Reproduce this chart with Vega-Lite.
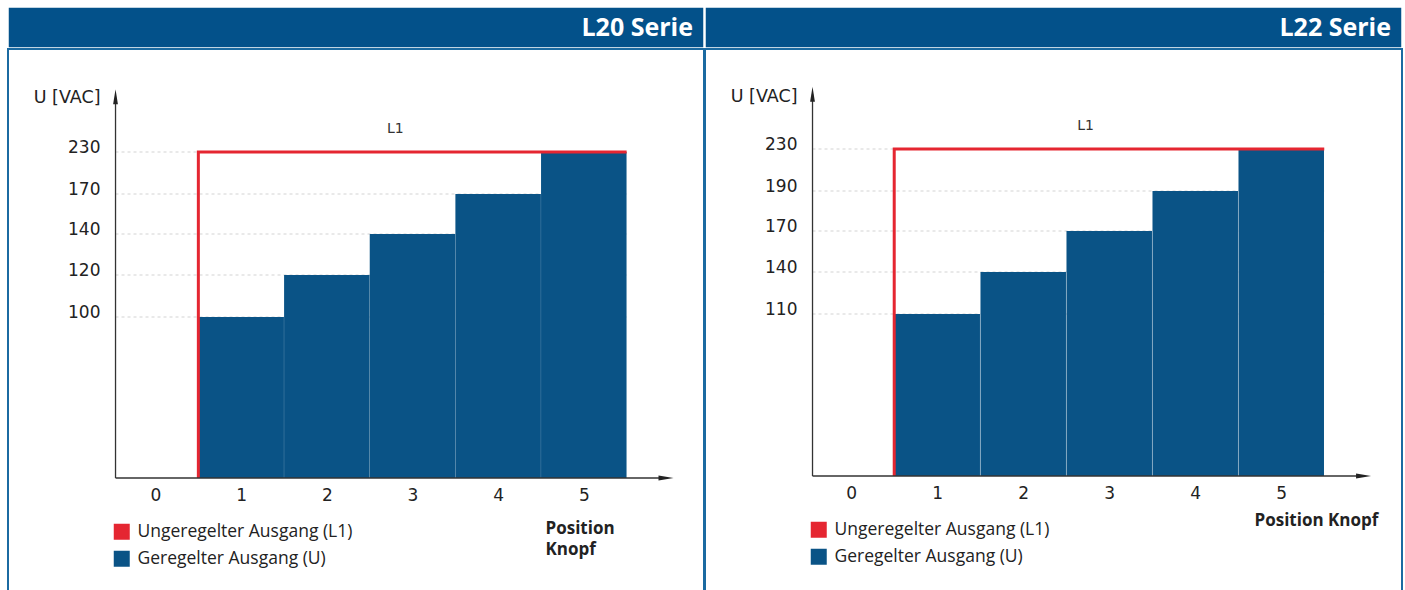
{
  "$schema": "https://vega.github.io/schema/vega-lite/v6.json",
  "padding": {"left": 7, "top": 6, "right": 0, "bottom": -3},
  "background": "white",
  "config": {"view": {"stroke": null}},
  "spacing": -4,
  "resolve": {"scale": {"color": "independent"}, "legend": {"color": "independent"}},
  "hconcat": [
    {
      "spacing": -2,
      "resolve": {"scale": {"color": "independent"}, "legend": {"color": "independent"}},
      "vconcat": [
        {
          "width": 696, "height": 41,
          "view": {"fill": "#03518a", "stroke": "#ffffff", "strokeWidth": 1.5},
          "data": {"values": [{"Serie": "L20 Serie"}]},
          "mark": {"type": "text", "align": "right", "baseline": "middle", "dx": -11, "font": "Open Sans", "fontSize": 25, "fontWeight": "bold", "color": "#ffffff"},
          "encoding": {
            "text": {"field": "Serie"},
            "x": {"datum": 1, "type": "quantitative", "scale": {"domain": [0, 1], "nice": false, "zero": false}, "axis": null}
          }
        },
        {
          "width": 696, "height": 545,
          "view": {"stroke": "#1b6aa1", "strokeWidth": 2},
          "data": {"values": [
            {"Position": 1, "U": 100},
            {"Position": 2, "U": 120},
            {"Position": 3, "U": 140},
            {"Position": 4, "U": 170},
            {"Position": 5, "U": 230}
          ]},
          "layer": [
            {
              "mark": {"type": "rule", "strokeDash": [3, 3], "color": "#d3d3d3", "strokeWidth": 1},
              "encoding": {
                "x": {"datum": -0.467, "type": "quantitative"},
                "x2": {"datum": 5.5},
                "y": {"field": "U", "type": "quantitative"}
              }
            },
            {
              "mark": {"type": "bar", "width": 85.5},
              "encoding": {
                "x": {"field": "Position", "type": "quantitative",
                  "scale": {"domain": [-1.664, 6.345], "nice": false, "zero": false},
                  "axis": {"values": [0, 1, 2, 3, 4, 5], "format": "d", "offset": -116, "domain": false, "ticks": false, "tickSize": 0, "grid": false,
                    "labelPadding": 9, "labelFont": "DejaVu Sans", "labelFontSize": 17, "labelColor": "#222222", "labelFlush": false, "labelOverlap": false,
                    "title": ["Position", "Knopf"], "titleFont": "Open Sans", "titleFontSize": 17, "titleFontWeight": "bold", "titleColor": "#222222",
                    "titleAlign": "left", "titleAnchor": "start", "titleX": 537, "titleY": 50, "titleBaseline": "middle", "titleLineHeight": 21}},
                "y": {"field": "U", "type": "quantitative",
                  "scale": {"domain": [-72, 0, 100, 120, 140, 170, 230, 377], "range": [545, 429, 268, 226, 185, 145, 103, 0], "nice": false, "zero": false},
                  "axis": {"values": [100, 120, 140, 170, 230], "offset": -104, "domain": false, "ticks": false, "tickSize": 0, "grid": false,
                    "labelPadding": 12, "labelBaseline": "alphabetic", "labelFont": "DejaVu Sans", "labelFontSize": 17, "labelColor": "#222222", "labelFlush": false, "labelOverlap": false,
                    "title": "U [VAC]", "titleAngle": 0, "titleAlign": "right", "titleBaseline": "middle", "titleX": -12, "titleY": 48,
                    "titleFont": "DejaVu Sans", "titleFontSize": 17.5, "titleFontWeight": "normal", "titleColor": "#222222"}},
                "color": {"datum": "Geregelter Ausgang (U)", "type": "nominal",
                  "scale": {"domain": ["Ungeregelter Ausgang (L1)", "Geregelter Ausgang (U)"], "range": ["#e52631", "#0a5386"]},
                  "legend": {"orient": "none", "legendX": 105, "legendY": 474, "title": null, "symbolType": "square", "symbolSize": 256, "symbolStrokeWidth": 0, "symbolOpacity": 1,
                    "labelFont": "Open Sans", "labelFontSize": 17.5, "labelColor": "#222222", "labelOffset": 7, "rowPadding": 8, "padding": 0, "labelLimit": 400}}
              }
            },
            {
              "data": {"values": [
                {"Position": 0.5, "U": 0},
                {"Position": 0.5, "U": 230},
                {"Position": 5.5, "U": 230}
              ]},
              "mark": {"type": "line", "color": "#e52631", "strokeWidth": 3, "strokeJoin": "miter", "strokeCap": "butt"},
              "encoding": {
                "x": {"field": "Position", "type": "quantitative"},
                "y": {"field": "U", "type": "quantitative"}
              }
            },
            {
              "data": {"values": [{}]},
              "mark": {"type": "rule", "color": "#333333", "strokeWidth": 1.3},
              "encoding": {
                "x": {"datum": -0.467, "type": "quantitative"},
                "y": {"datum": 0, "type": "quantitative"},
                "y2": {"datum": 309}
              }
            },
            {
              "data": {"values": [{}]},
              "mark": {"type": "rule", "color": "#333333", "strokeWidth": 1.3},
              "encoding": {
                "x": {"datum": -0.467, "type": "quantitative"},
                "x2": {"datum": 5.96},
                "y": {"datum": 0, "type": "quantitative"}
              }
            },
            {
              "data": {"values": [{}]},
              "mark": {"type": "point", "shape": "M0,-1L0.32,1L-0.32,1Z", "size": 225, "filled": true, "color": "#222222", "opacity": 1},
              "encoding": {
                "x": {"datum": -0.467, "type": "quantitative"},
                "y": {"datum": 309, "type": "quantitative"}
              }
            },
            {
              "data": {"values": [{}]},
              "mark": {"type": "point", "shape": "M1,0L-1,-0.32L-1,0.32Z", "size": 225, "filled": true, "color": "#222222", "opacity": 1},
              "encoding": {
                "x": {"datum": 5.96, "type": "quantitative"},
                "y": {"datum": 0, "type": "quantitative"}
              }
            },
            {
              "data": {"values": [{}]},
              "mark": {"type": "text", "text": "L1", "font": "DejaVu Sans", "fontSize": 14, "color": "#333333", "align": "center", "baseline": "middle"},
              "encoding": {
                "x": {"datum": 2.8, "type": "quantitative"},
                "y": {"datum": 263, "type": "quantitative"}
              }
            }
          ]
        }
      ]
    },
    {
      "spacing": -2,
      "resolve": {"scale": {"color": "independent"}, "legend": {"color": "independent"}},
      "vconcat": [
        {
          "width": 697, "height": 41,
          "view": {"fill": "#03518a", "stroke": "#ffffff", "strokeWidth": 1.5},
          "data": {"values": [{"Serie": "L22 Serie"}]},
          "mark": {"type": "text", "align": "right", "baseline": "middle", "dx": -11, "font": "Open Sans", "fontSize": 25, "fontWeight": "bold", "color": "#ffffff"},
          "encoding": {
            "text": {"field": "Serie"},
            "x": {"datum": 1, "type": "quantitative", "scale": {"domain": [0, 1], "nice": false, "zero": false}, "axis": null}
          }
        },
        {
          "width": 697, "height": 545,
          "view": {"stroke": "#1b6aa1", "strokeWidth": 2},
          "data": {"values": [
            {"Position": 1, "U": 110},
            {"Position": 2, "U": 140},
            {"Position": 3, "U": 170},
            {"Position": 4, "U": 190},
            {"Position": 5, "U": 230}
          ]},
          "layer": [
            {
              "mark": {"type": "rule", "strokeDash": [3, 3], "color": "#d3d3d3", "strokeWidth": 1},
              "encoding": {
                "x": {"datum": -0.45, "type": "quantitative"},
                "x2": {"datum": 5.5},
                "y": {"field": "U", "type": "quantitative"}
              }
            },
            {
              "mark": {"type": "bar", "width": 85.5},
              "encoding": {
                "x": {"field": "Position", "type": "quantitative",
                  "scale": {"domain": [-1.642, 6.346], "nice": false, "zero": false},
                  "axis": {"values": [0, 1, 2, 3, 4, 5], "format": "d", "offset": -118, "domain": false, "ticks": false, "tickSize": 0, "grid": false,
                    "labelPadding": 9, "labelFont": "DejaVu Sans", "labelFontSize": 17, "labelColor": "#222222", "labelFlush": false, "labelOverlap": false,
                    "title": "Position Knopf", "titleFont": "Open Sans", "titleFontSize": 17, "titleFontWeight": "bold", "titleColor": "#222222",
                    "titleAlign": "left", "titleAnchor": "start", "titleX": 549, "titleY": 44, "titleBaseline": "middle"}},
                "y": {"field": "U", "type": "quantitative",
                  "scale": {"domain": [-80, 0, 110, 140, 170, 190, 230, 325], "range": [545, 427, 265, 223, 182, 142, 100, 0], "nice": false, "zero": false},
                  "axis": {"values": [110, 140, 170, 190, 230], "offset": -104, "domain": false, "ticks": false, "tickSize": 0, "grid": false,
                    "labelPadding": 12, "labelBaseline": "alphabetic", "labelFont": "DejaVu Sans", "labelFontSize": 17, "labelColor": "#222222", "labelFlush": false, "labelOverlap": false,
                    "title": "U [VAC]", "titleAngle": 0, "titleAlign": "right", "titleBaseline": "middle", "titleX": -12, "titleY": 47,
                    "titleFont": "DejaVu Sans", "titleFontSize": 17.5, "titleFontWeight": "normal", "titleColor": "#222222"}},
                "color": {"datum": "Geregelter Ausgang (U)", "type": "nominal",
                  "scale": {"domain": ["Ungeregelter Ausgang (L1)", "Geregelter Ausgang (U)"], "range": ["#e52631", "#0a5386"]},
                  "legend": {"orient": "none", "legendX": 105, "legendY": 472, "title": null, "symbolType": "square", "symbolSize": 256, "symbolStrokeWidth": 0, "symbolOpacity": 1,
                    "labelFont": "Open Sans", "labelFontSize": 17.5, "labelColor": "#222222", "labelOffset": 7, "rowPadding": 8, "padding": 0, "labelLimit": 400}}
              }
            },
            {
              "data": {"values": [
                {"Position": 0.5, "U": 0},
                {"Position": 0.5, "U": 230},
                {"Position": 5.5, "U": 230}
              ]},
              "mark": {"type": "line", "color": "#e52631", "strokeWidth": 3, "strokeJoin": "miter", "strokeCap": "butt"},
              "encoding": {
                "x": {"field": "Position", "type": "quantitative"},
                "y": {"field": "U", "type": "quantitative"}
              }
            },
            {
              "data": {"values": [{}]},
              "mark": {"type": "rule", "color": "#333333", "strokeWidth": 1.3},
              "encoding": {
                "x": {"datum": -0.45, "type": "quantitative"},
                "y": {"datum": 0, "type": "quantitative"},
                "y2": {"datum": 282}
              }
            },
            {
              "data": {"values": [{}]},
              "mark": {"type": "rule", "color": "#333333", "strokeWidth": 1.3},
              "encoding": {
                "x": {"datum": -0.45, "type": "quantitative"},
                "x2": {"datum": 5.957},
                "y": {"datum": 0, "type": "quantitative"}
              }
            },
            {
              "data": {"values": [{}]},
              "mark": {"type": "point", "shape": "M0,-1L0.32,1L-0.32,1Z", "size": 225, "filled": true, "color": "#222222", "opacity": 1},
              "encoding": {
                "x": {"datum": -0.45, "type": "quantitative"},
                "y": {"datum": 282, "type": "quantitative"}
              }
            },
            {
              "data": {"values": [{}]},
              "mark": {"type": "point", "shape": "M1,0L-1,-0.32L-1,0.32Z", "size": 225, "filled": true, "color": "#222222", "opacity": 1},
              "encoding": {
                "x": {"datum": 5.957, "type": "quantitative"},
                "y": {"datum": 0, "type": "quantitative"}
              }
            },
            {
              "data": {"values": [{}]},
              "mark": {"type": "text", "text": "L1", "font": "DejaVu Sans", "fontSize": 14, "color": "#333333", "align": "center", "baseline": "middle"},
              "encoding": {
                "x": {"datum": 2.725, "type": "quantitative"},
                "y": {"datum": 252, "type": "quantitative"}
              }
            }
          ]
        }
      ]
    }
  ]
}
